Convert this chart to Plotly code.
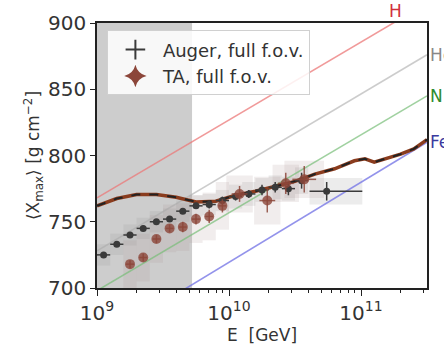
import numpy as np
import plotly.graph_objects as go

# ---------------- data (log10 E/GeV, <Xmax> g/cm^2) ----------------
auger_logE = [9.05, 9.15, 9.25, 9.35, 9.45, 9.55, 9.65, 9.75, 9.85, 9.95,
              10.05, 10.15, 10.25, 10.35, 10.45, 10.55, 10.74]
auger_xmax = [725, 733, 740, 745, 750, 752, 758, 762, 763, 766,
              769, 771, 774, 776, 775, 781, 773]
auger_stat = [2, 2, 2, 2, 2, 2, 2, 2, 3, 3, 3, 3, 4, 4, 5, 6, 7]
auger_sys = [8, 8, 8, 8, 8, 8, 8, 8, 8, 8, 9, 9, 9, 9, 9, 10, 10]
auger_dlo = [0.05, 0.05, 0.05, 0.05, 0.05, 0.05, 0.05, 0.05, 0.05, 0.05,
             0.05, 0.05, 0.05, 0.05, 0.05, 0.05, 0.13]
auger_dhi = [0.05, 0.05, 0.05, 0.05, 0.05, 0.05, 0.05, 0.05, 0.05, 0.05,
             0.05, 0.05, 0.05, 0.05, 0.05, 0.05, 0.27]

ta_logE = [9.25, 9.35, 9.45, 9.55, 9.65, 9.75, 9.85, 9.95, 10.08, 10.29, 10.43, 10.57]
ta_xmax = [718, 723, 737, 745, 746, 752, 754, 762, 771, 766, 779, 782]
ta_stat = [3, 3, 3, 3, 4, 4, 5, 5, 6, 9, 8, 10]
ta_sys = [18, 18, 18, 18, 18, 18, 18, 18, 14, 18, 14, 14]
ta_half = [0.05, 0.05, 0.05, 0.05, 0.05, 0.05, 0.05, 0.05, 0.1, 0.1, 0.1, 0.15]

model_logE = [9.0, 9.15, 9.3, 9.45, 9.6, 9.75, 9.9, 10.05, 10.2, 10.35,
              10.5, 10.65, 10.8, 10.95, 11.03, 11.1, 11.2, 11.3, 11.4, 11.5]
model_xmax = [762, 767.5, 770.5, 770.5, 768.5, 765, 765.5, 770, 773, 777,
              780.5, 786, 790, 796, 797.5, 795, 798, 801, 805, 812]

comp_logE = [9.0, 11.5]
comp_names = ["H", "He", "N", "Fe"]
comp_values = {"H": [768, 915], "He": [728, 876], "N": [698, 845], "Fe": [659, 810]}
comp_line_colors = {"H": "rgba(235,120,120,0.75)", "He": "rgba(170,170,170,0.6)",
                    "N": "rgba(120,190,120,0.7)", "Fe": "rgba(120,120,230,0.8)"}
comp_text_colors = {"H": "#d0303c", "He": "#888888", "N": "#2e8b2e", "Fe": "#3a3aa0"}

shade_logE = [9.0, 9.72]

x_ticks = [1e9, 1e10, 1e11]
x_ticktext = ["10<sup>9</sup>", "10<sup>10</sup>", "10<sup>11</sup>"]
y_ticks = [700, 750, 800, 850, 900]

FONT = "DejaVu Sans"

fig = go.Figure()

# shaded region
fig.add_shape(type="rect", xref="x", yref="paper",
              x0=10 ** shade_logE[0], x1=10 ** shade_logE[1], y0=0, y1=1,
              fillcolor="#cdcdcd", line_width=0, layer="below")

# systematic boxes
for lg, v, s, lo, hi in zip(auger_logE, auger_xmax, auger_sys, auger_dlo, auger_dhi):
    fig.add_shape(type="rect", xref="x", yref="y",
                  x0=10 ** (lg - lo), x1=10 ** (lg + hi), y0=v - s, y1=v + s,
                  fillcolor="rgba(150,150,150,0.18)", line_width=0, layer="below")
for lg, v, s, h in zip(ta_logE, ta_xmax, ta_sys, ta_half):
    fig.add_shape(type="rect", xref="x", yref="y",
                  x0=10 ** (lg - h), x1=10 ** (lg + h), y0=v - s, y1=v + s,
                  fillcolor="rgba(170,140,140,0.16)", line_width=0, layer="below")

# composition lines
cx = [10 ** l for l in comp_logE]
for n in comp_names:
    fig.add_trace(go.Scatter(x=cx, y=comp_values[n], mode="lines",
                             line=dict(color=comp_line_colors[n], width=1.6),
                             showlegend=False, hoverinfo="skip"))

# model curve
mx = [10 ** l for l in model_logE]
fig.add_trace(go.Scatter(x=mx, y=model_xmax, mode="lines",
                         line=dict(color="#8a3c1e", width=3.5),
                         showlegend=False))
fig.add_trace(go.Scatter(x=mx, y=model_xmax, mode="lines",
                         line=dict(color="#222222", width=2, dash="dash"),
                         showlegend=False))

# Auger
ax = np.array([10 ** l for l in auger_logE])
fig.add_trace(go.Scatter(
    x=ax, y=auger_xmax, mode="markers",
    marker=dict(color="#3a3a3a", size=7),
    error_y=dict(type="data", array=auger_stat, color="#3a3a3a", thickness=1.5, width=0),
    error_x=dict(type="data", symmetric=False,
                 array=10 ** (np.array(auger_logE) + np.array(auger_dhi)) - ax,
                 arrayminus=ax - 10 ** (np.array(auger_logE) - np.array(auger_dlo)),
                 color="#3a3a3a", thickness=1.5, width=0),
    showlegend=False))

# TA
tx = np.array([10 ** l for l in ta_logE])
fig.add_trace(go.Scatter(
    x=tx, y=ta_xmax, mode="markers",
    marker=dict(color="rgba(140,70,58,0.8)", size=10),
    error_y=dict(type="data", array=ta_stat, color="rgba(140,70,58,0.85)", thickness=1.5, width=0),
    error_x=dict(type="data", symmetric=False,
                 array=10 ** (np.array(ta_logE) + np.array(ta_half) * 0.6) - tx,
                 arrayminus=tx - 10 ** (np.array(ta_logE) - np.array(ta_half) * 0.6),
                 color="rgba(140,70,58,0.85)", thickness=1.5, width=0),
    showlegend=False))

# legend proxies
fig.add_trace(go.Scatter(x=[None], y=[None], mode="markers", name="Auger, full f.o.v.",
                         legendgroup="a",
                         marker=dict(symbol="cross-thin", size=14, color="#3a3a3a",
                                     line=dict(width=2, color="#3a3a3a"))))
fig.add_trace(go.Scatter(x=[None], y=[None], mode="markers", name="TA, full f.o.v.",
                         legendgroup="b",
                         marker=dict(symbol="star-diamond", size=16, color="#8c463a")))

# composition labels
fig.add_annotation(x=11.26, y=1, xref="x", yref="paper",
                   text="H", showarrow=False, yanchor="bottom", xanchor="center",
                   font=dict(family=FONT, size=17, color=comp_text_colors["H"]))
for n in ["He", "N", "Fe"]:
    fig.add_annotation(x=1.0, y=comp_values[n][1], xref="paper", yref="y",
                       text=n, showarrow=False, xanchor="left", yanchor="middle", xshift=1,
                       font=dict(family=FONT, size=17, color=comp_text_colors[n]))

fig.update_xaxes(type="log", range=[9, 11.5], tickvals=x_ticks, ticktext=x_ticktext,
                 ticks="outside", ticklen=6, tickwidth=1.2, tickcolor="#222",
                 showline=True, mirror=True, linecolor="#222", linewidth=1.6,
                 showgrid=False, zeroline=False,
                 tickfont=dict(family=FONT, size=20, color="#333"),
                 minor=dict(tickvals=[k * 10 ** d for d in (9, 10, 11) for k in range(2, 10)],
                            ticks="outside", ticklen=3, tickcolor="#222"),
                 title=dict(text="E  [GeV]", font=dict(family=FONT, size=17, color="#333"),
                            standoff=4))
fig.update_yaxes(range=[700, 900], tickvals=y_ticks,
                 ticks="outside", ticklen=5, tickwidth=1.2, tickcolor="#222",
                 showline=True, mirror=True, linecolor="#222", linewidth=1.6,
                 showgrid=False, zeroline=False,
                 tickfont=dict(family=FONT, size=20, color="#333"),
                 title=dict(text="⟨X<sub>max</sub>⟩ [g cm<sup>−2</sup>]",
                            font=dict(family=FONT, size=17, color="#333"), standoff=4))

fig.update_layout(
    width=444, height=354,
    margin=dict(l=97, r=17, t=23, b=66),
    paper_bgcolor="white", plot_bgcolor="white",
    legend=dict(x=0.03, y=0.972, xanchor="left", yanchor="top",
                bgcolor="rgba(255,255,255,0.85)", bordercolor="#d0d0d0", borderwidth=1,
                font=dict(family=FONT, size=18, color="#333"), tracegroupgap=0,
                itemwidth=45),
)

fig.write_html("out.html", config={"displayModeBar": False},
               post_script="document.body.style.margin='0';document.body.style.overflow='hidden';")
